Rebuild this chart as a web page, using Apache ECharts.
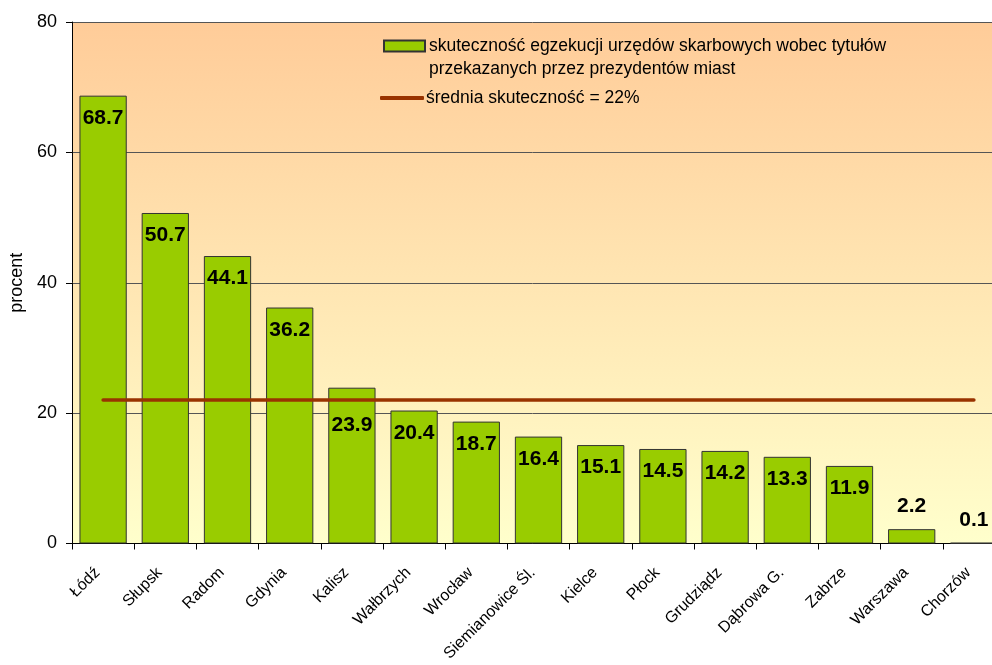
<!DOCTYPE html>
<html>
<head>
<meta charset="utf-8">
<script src="https://cdn.jsdelivr.net/npm/echarts@6/dist/echarts.min.js"></script>
<style>
  html, body { margin: 0; padding: 0; background: #ffffff; }
  #chart { width: 992px; height: 665px; }
</style>
</head>
<body>
<div id="chart"></div>
<script>
// Cities, ordered by collection efficiency
const cities = ['Łódź', 'Słupsk', 'Radom', 'Gdynia', 'Kalisz', 'Wałbrzych', 'Wrocław',
  'Siemianowice Śl.', 'Kielce', 'Płock', 'Grudziądz', 'Dąbrowa G.', 'Zabrze', 'Warszawa', 'Chorzów'];
// Efficiency of tax-office enforcement, percent
const efficiency = [68.7, 50.7, 44.1, 36.2, 23.9, 20.4, 18.7, 16.4, 15.1, 14.5, 14.2, 13.3, 11.9, 2.2, 0.1];
// Average efficiency, percent
const averageValue = 22;
const yTicks = [0, 20, 40, 60, 80];

const barName = 'skuteczność egzekucji urzędów skarbowych wobec tytułów przekazanych przez prezydentów miast';
const barNameLines = ['skuteczność egzekucji urzędów skarbowych wobec tytułów', 'przekazanych przez prezydentów miast'];
const avgName = 'średnia skuteczność = 22%';
const yAxisTitle = 'procent';

const FONT = 'Arial, "Liberation Sans", sans-serif';

// label placement: short bars get the value above, the rest inside near the top
const barData = efficiency.map((v, i) => {
  const item = { value: v };
  if (v < 5) {
    item.label = { position: 'top', distance: 12 };
  } else if (cities[i] === 'Kalisz') {
    item.label = { position: 'insideTop', distance: 27 };
  }
  return item;
});
const avgData = cities.map(() => averageValue);

const chart = echarts.init(document.getElementById('chart'), null, { renderer: 'canvas' });

chart.setOption({
  animation: false,
  backgroundColor: '#ffffff',
  textStyle: { fontFamily: FONT },
  grid: {
    left: 72,
    top: 22,
    width: 933,
    height: 521.5,
    outerBoundsMode: 'none',
    containLabel: false,
    show: true,
    borderWidth: 0,
    backgroundColor: {
      type: 'linear', x: 0, y: 0, x2: 0, y2: 1,
      colorStops: [
        { offset: 0, color: '#FFCC99' },
        { offset: 1, color: '#FFFFCC' }
      ]
    }
  },
  legend: [
    {
      // a blank leading line keeps the swatch level with the first line of text
      data: [{ name: barName, icon: 'rect' }],
      left: 383,
      top: 11.5,
      padding: 0,
      itemWidth: 41,
      itemHeight: 11,
      itemGap: 0,
      selectedMode: false,
      formatter: () => ' \n' + barNameLines.join('\n'),
      textStyle: {
        fontFamily: FONT,
        fontSize: 17.5,
        color: '#000000',
        lineHeight: 23,
        padding: [0, 0, 0, -1]
      }
    },
    {
      data: [{ name: avgName, icon: 'roundRect' }],
      left: 380,
      top: 89,
      padding: 0,
      itemWidth: 44,
      itemHeight: 4,
      selectedMode: false,
      textStyle: { fontFamily: FONT, fontSize: 17.5, color: '#000000', padding: [0, 0, 0, -3] }
    }
  ],
  xAxis: {
    type: 'category',
    data: cities,
    boundaryGap: true,
    axisLine: { lineStyle: { color: '#000000', width: 1 } },
    axisTick: { show: true, alignWithLabel: false, length: 6, inside: false, lineStyle: { color: '#000000' } },
    axisLabel: {
      interval: 0,
      rotate: 45,
      margin: 21,
      padding: [0, 8, 0, 0],
      fontFamily: FONT,
      fontSize: 16,
      color: '#000000'
    }
  },
  yAxis: {
    type: 'value',
    min: 0,
    max: 80,
    interval: 20,
    name: yAxisTitle,
    nameLocation: 'middle',
    nameRotate: 90,
    nameGap: 46,
    nameTextStyle: { fontFamily: FONT, fontSize: 18, color: '#000000' },
    axisLine: { show: true, lineStyle: { color: '#000000', width: 1 } },
    axisTick: { show: true, length: 6, lineStyle: { color: '#000000' } },
    axisLabel: {
      margin: 15,
      fontFamily: FONT,
      fontSize: 18,
      color: '#000000',
      formatter: v => (yTicks.indexOf(v) >= 0 ? String(v) : '')
    },
    splitLine: { show: true, lineStyle: { color: '#555555', width: 1 } }
  },
  series: [
    {
      name: barName,
      type: 'bar',
      data: barData,
      barCategoryGap: '24%',
      itemStyle: { color: '#99CC00', borderColor: '#333333', borderWidth: 1 },
      label: {
        show: true,
        position: 'insideTop',
        distance: 12,
        fontFamily: FONT,
        fontSize: 21,
        fontWeight: 'bold',
        color: '#000000',
        formatter: p => p.value.toFixed(1)
      },
      z: 2
    },
    {
      name: avgName,
      type: 'line',
      data: avgData,
      symbol: 'none',
      showSymbol: false,
      lineStyle: { color: '#993300', width: 3.5, cap: 'round' },
      itemStyle: { color: '#993300' },
      z: 3
    }
  ]
});
</script>
</body>
</html>
